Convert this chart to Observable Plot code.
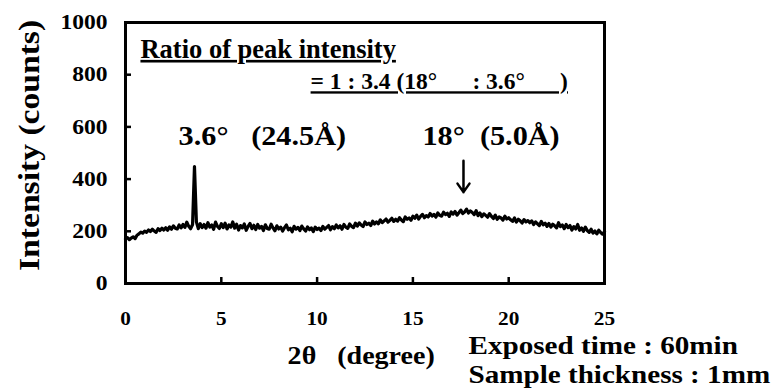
<!DOCTYPE html>
<html>
<head>
<meta charset="utf-8">
<script src="https://cdn.jsdelivr.net/npm/d3@7"></script>
<script src="https://cdn.jsdelivr.net/npm/@observablehq/plot@0.6"></script>
<style>
  html, body { margin: 0; padding: 0; background: #fff; }
  svg text { white-space: pre; }
</style>
</head>
<body>
<div id="chart"></div>
<script>
// ---- data ----
const twoThetaStart = 0;
const twoThetaStep = 0.1;
const intensity = [
  170,176,168,174,179,172,185,190,197,193,201,
  196,205,199,208,201,196,210,203,212,205,
  214,204,217,208,221,212,209,224,213,226,
  215,235,219,210,226,448,236,210,229,214,
  226,212,233,216,224,208,235,219,211,229,
  214,231,209,224,216,236,212,227,205,222,
  213,228,204,219,230,210,223,207,226,212,
  219,203,225,211,208,227,213,202,221,209,
  216,201,214,224,206,212,198,219,208,215,
  203,220,209,201,217,206,213,199,216,207,
  212,203,219,208,215,222,206,218,210,224,
  213,221,208,226,216,211,228,219,214,231,
  220,232,224,218,236,226,231,222,239,228,
  236,229,244,233,240,247,235,242,250,238,
  246,239,252,243,237,255,246,251,242,258,
  250,262,247,257,265,252,260,255,268,258,
  265,254,270,261,258,273,264,269,257,274,
  266,276,262,271,281,268,274,285,270,278,
  272,264,279,260,270,256,267,261,254,268,
  257,249,262,246,255,251,243,258,247,252,
  244,238,251,235,246,240,232,245,236,241,
  233,240,226,236,229,222,238,225,231,219,
  230,216,227,221,213,233,218,224,210,226,
  214,222,205,218,209,226,204,213,200,216,
  203,196,208,193,201,190,204,195,189,198
];
const xTicks = [0, 5, 10, 15, 20, 25];
const yTicks = [0, 200, 400, 600, 800, 1000];
const yLabel = "Intensity (counts)";
const xLabel = "2θ   (degree)";
const ratioTitle = "Ratio of peak intensity";
const ratioValue = "= 1 : 3.4 (18°      : 3.6°      )";
const peak1Label = "3.6°   (24.5Å)";
const peak2Label = "18°  (5.0Å)";
const noteLines = ["Exposed time : 60min", "Sample thickness : 1mm"];

const rows = intensity.map((v, i) => ({x: +(twoThetaStart + i * twoThetaStep).toFixed(1), y: v}));

const F = "Liberation Serif, Times New Roman, serif";
const B = "bold";

const chart = Plot.plot({
  width: 771,
  height: 390,
  marginLeft: 125,
  marginRight: 167,
  marginTop: 22,
  marginBottom: 107,
  style: {background: "white", color: "black", overflow: "visible"},
  x: {domain: [0, 25]},
  y: {domain: [0, 1000]},
  marks: [
    Plot.axisX({ticks: xTicks, tickFormat: d => String(d), tickSize: 0, tickPadding: 28, label: null,
      fontSize: 19, fontWeight: B, fontFamily: F}),
    Plot.axisY({ticks: yTicks, tickFormat: d => String(d), tickSize: 0, tickPadding: 18, label: null,
      fontSize: 21, fontWeight: B, fontFamily: F}),
    Plot.axisX({ticks: xTicks, tickSize: 6, dy: -6, text: null, label: null, strokeWidth: 2.5}),
    Plot.axisY({ticks: yTicks, tickSize: 6, dx: 6, text: null, label: null, strokeWidth: 2.5}),
    Plot.line(rows, {x: "x", y: "y", stroke: "black", strokeWidth: 3.2, strokeLinejoin: "round"}),
    Plot.frame({stroke: "black", strokeWidth: 3}),
    Plot.text([yLabel], {x: -5.0, y: 529, rotate: -90, fontSize: 30, fontWeight: B, fontFamily: F}),
    Plot.text([xLabel], {x: 12.3, y: -276, fontSize: 25, fontWeight: B, fontFamily: F}),
    Plot.text([noteLines[0]], {x: 17.9, y: -240, textAnchor: "start", fontSize: 26, fontWeight: B, fontFamily: F}),
    Plot.text([noteLines[1]], {x: 17.9, y: -348, textAnchor: "start", fontSize: 26, fontWeight: B, fontFamily: F}),
    Plot.text([ratioTitle], {x: 0.78, y: 897, textAnchor: "start", fontSize: 26.5, fontWeight: B, fontFamily: F}),
    Plot.text([ratioValue], {x: 9.66, y: 773, textAnchor: "start", fontSize: 23.5, fontWeight: B, fontFamily: F}),
    Plot.text([peak1Label], {x: 2.77, y: 565, textAnchor: "start", fontSize: 27, fontWeight: B, fontFamily: F}),
    Plot.text([peak2Label], {x: 15.5, y: 565, textAnchor: "start", fontSize: 27, fontWeight: B, fontFamily: F}),
    Plot.arrow([0], {x1: 17.64, y1: 470, x2: 17.64, y2: 350, stroke: "black",
      strokeWidth: 2.5, headLength: 12, headAngle: 70})
  ]
});

document.getElementById("chart").appendChild(chart);

// underline the ratio text; widen other glyphs slightly like the reference
const STRETCH = 1.12;
d3.select(chart).selectAll("text").each(function() {
  const t = this.textContent;
  if (t === ratioTitle || t === ratioValue) {
    this.setAttribute("text-decoration", "underline");
    return;
  }
  const L = this.getComputedTextLength();
  if (L > 0) {
    this.setAttribute("textLength", (L * STRETCH).toFixed(1));
    this.setAttribute("lengthAdjust", "spacingAndGlyphs");
  }
});
</script>
</body>
</html>
